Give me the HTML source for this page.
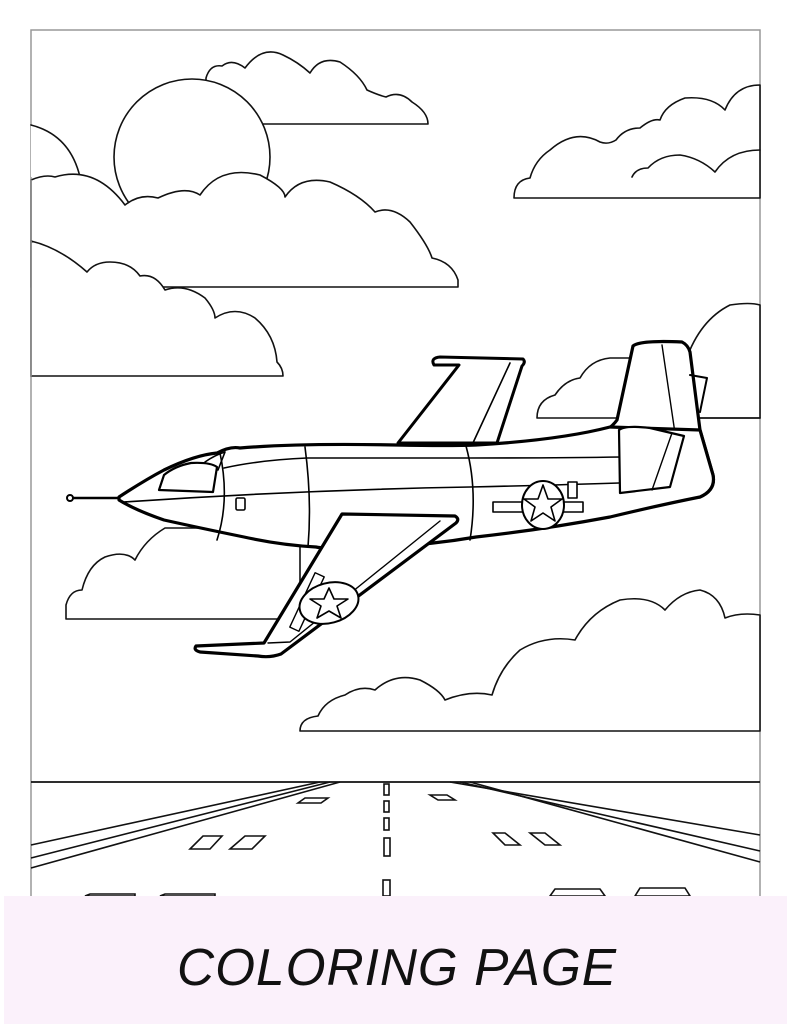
<!DOCTYPE html>
<html><head><meta charset="utf-8"><style>
html,body{margin:0;padding:0;background:#fff;width:791px;height:1024px;overflow:hidden}
svg{display:block}
</style></head><body>
<svg width="791" height="1024" viewBox="0 0 791 1024" xmlns="http://www.w3.org/2000/svg">
<rect x="0" y="0" width="791" height="1024" fill="#fff"/>
<rect x="31" y="30" width="729" height="880" fill="#fff" stroke="#999" stroke-width="1.5"/>
<g fill="#fff" stroke="#111" stroke-width="1.6" stroke-linecap="round" stroke-linejoin="round">
<path d="M206,124 L206,78 Q210,64 222,66 Q232,58 245,68 Q262,45 283,55 Q298,62 310,73 Q320,56 340,62 Q360,75 367,90 Q378,95 386,97 Q400,90 412,102 Q428,112 428,124 Z"/>
<circle cx="192" cy="157" r="78"/>
<path d="M31,125 Q70,135 80,177 L31,177 Z" stroke="none"/>
<path d="M31,125 Q70,135 80,177" fill="none"/>
<path d="M31,287 L31,180 Q45,174 55,177 Q95,165 125,205 Q140,193 158,198 Q185,185 200,195 Q220,165 260,175 Q285,188 285,197 Q300,175 330,182 Q360,195 375,212 Q392,205 410,222 Q428,245 432,258 Q452,262 458,280 L458,287 Z"/>
<line x1="31" y1="180" x2="31" y2="287" stroke="#999" stroke-width="1.5"/>
<path d="M31,241 Q60,248 87,272 Q95,262 110,262 Q130,262 140,276 Q155,273 165,290 Q185,283 205,298 Q215,310 215,318 Q235,305 255,318 Q275,335 277,362 Q283,368 283,376 L31,376 Z"/>
<line x1="31" y1="241" x2="31" y2="376" stroke="#999" stroke-width="1.5"/>
<path d="M514,198 Q514,180 530,178 Q535,160 550,150 Q575,128 600,142 Q608,145 616,140 Q625,128 640,128 Q652,118 660,120 Q665,105 685,98 Q712,96 725,110 Q735,85 760,85 L760,198 Z"/>
<path d="M632,177 Q636,168 648,168 Q660,155 680,155 Q700,158 715,172 Q730,150 760,150" fill="none"/>
<path d="M537,418 Q537,400 555,395 Q565,380 580,378 Q590,360 610,358 L640,358 L640,418 Z"/>
<path d="M686,360 Q700,320 730,305 Q750,302 760,305 L760,418 L686,418 Z"/>
<line x1="686" y1="418" x2="760" y2="418"/>
<path d="M66,619 L66,605 Q70,590 82,590 Q88,565 105,557 Q125,550 135,560 Q145,540 165,528 L300,528 L300,619 Z"/>
<path d="M300,731 Q300,718 318,716 Q325,700 345,695 Q360,685 375,690 Q395,672 420,680 Q440,690 445,700 Q470,690 492,695 Q500,668 520,650 Q545,635 575,640 Q590,612 620,600 Q650,595 665,610 Q680,592 700,590 Q720,595 725,618 Q740,612 760,615 L760,731 Z"/>
</g>
<g fill="#fff" stroke="#000" stroke-linejoin="round" stroke-linecap="round">
<path d="M398,443 L459,365 L434,365 Q430,358 440,357 L523,359 Q526,362 522,366 L497,443 Z" stroke-width="3"/>
<line x1="510" y1="363" x2="472" y2="445" stroke-width="1.6"/>
<path d="M590,440 Q610,430 617,420 L633,346 Q640,340 682,342 Q688,345 690,352 L700,430 L713,475 Q716,490 700,497 L600,500 Z" stroke-width="3.2"/>
<line x1="662" y1="345" x2="676" y2="440" stroke-width="1.4"/>
<path d="M690,375 L707,378 L700,412" fill="none" stroke-width="2"/>
<path d="M119,497 Q145,480 164,470 Q195,455 217,453 Q230,446 240,448 Q300,443 396,445 Q450,446 476,445 Q560,440 610,427 L700,430 L713,475 Q716,490 700,497 Q660,505 610,517 Q540,530 476,537 Q430,545 380,547 Q330,550 316,547 Q280,545 244,537 Q200,528 164,520 Q135,510 119,500 Z" stroke-width="3.2"/>
<line x1="68" y1="498" x2="119" y2="498" stroke-width="2.5"/>
<circle cx="70" cy="498" r="3" stroke-width="2"/>
<path d="M159,490 L164,475 Q175,466 191,463 Q210,462 217,467 L213,492 Z" stroke-width="2.2"/>
<path d="M205,462 Q215,455 225,452 L218,470" fill="none" stroke-width="1.6"/>
<path d="M124,502 Q300,490 470,487 Q560,485 619,483" fill="none" stroke-width="1.6"/>
<path d="M224,468 Q260,460 307,458 L470,458 Q560,458 622,457" fill="none" stroke-width="1.6"/>
<path d="M220,453 Q230,500 217,540" fill="none" stroke-width="1.6"/>
<path d="M305,447 Q312,500 308,547" fill="none" stroke-width="1.6"/>
<path d="M466,446 Q478,490 470,540" fill="none" stroke-width="1.6"/>
<rect x="236" y="498" width="9" height="12" rx="1.5" stroke-width="1.6"/>
<path d="M619,430 Q625,425 650,428 L684,436 L670,487 L620,493 Z" stroke-width="2.2"/>
<line x1="672" y1="433" x2="652" y2="490" stroke-width="1.4"/>
<rect x="493" y="502" width="90" height="10" stroke-width="1.6"/>
<rect x="568" y="482" width="9" height="16" stroke-width="1.6"/>
<ellipse cx="543" cy="505" rx="21" ry="24" stroke-width="2"/>
<polygon points="543,485 548,499 562,499 551,507 555,521 543,513 531,521 535,507 524,499 538,499" stroke-width="1.6"/>
<path d="M342,514 L455,516 Q460,519 456,523 L281,654 Q270,658 258,656 L200,652 Q193,650 196,646 L264,643 Z" stroke-width="3.2"/>
<path d="M440,521 L290,642 L268,643" fill="none" stroke-width="1.4"/>
<rect x="302" y="572" width="10" height="60" transform="rotate(25 307 602)" stroke-width="1.4"/>
<ellipse cx="329" cy="603" rx="30" ry="20" transform="rotate(-15 329 603)" stroke-width="2"/>
<polygon points="329,588 334,599 348,599 337,606 341,618 329,611 317,618 321,606 310,599 324,599" stroke-width="1.6"/>
</g>
<g stroke="#111" stroke-width="1.6" fill="#fff">
<line x1="31" y1="782" x2="760" y2="782" stroke-width="1.8"/>
<line x1="31" y1="845" x2="320" y2="782"/>
<line x1="31" y1="858" x2="330" y2="782"/>
<line x1="31" y1="868" x2="340" y2="782"/>
<line x1="760" y1="835" x2="450" y2="782"/>
<line x1="760" y1="851" x2="460" y2="782"/>
<line x1="760" y1="862" x2="470" y2="782"/>
<rect x="384" y="784" width="5" height="11"/>
<rect x="384" y="801" width="5" height="11"/>
<rect x="384" y="818" width="5" height="12"/>
<rect x="384" y="838" width="6" height="18"/>
<rect x="383" y="880" width="7" height="16"/>
<polygon points="305,798 328,798 321,803 298,803"/>
<polygon points="203,836 222,836 210,849 190,849"/>
<polygon points="245,836 265,836 252,849 230,849"/>
<polygon points="430,795 447,795 455,800 438,800"/>
<polygon points="493,833 505,833 520,845 505,845"/>
<polygon points="530,833 545,833 560,845 545,845"/>
<polygon points="85,896 90,894 135,894 135,896"/>
<polygon points="160,896 165,894 215,894 215,896"/>
<polygon points="550,896 555,889 600,889 605,896"/>
<polygon points="635,896 640,888 685,888 690,896"/>
</g>
<rect x="4" y="896" width="783" height="128" fill="#fbf1fb"/>
<text x="397" y="985" text-anchor="middle" font-family="'Liberation Sans', sans-serif" font-style="italic" font-size="52" fill="#111" letter-spacing="1" textLength="440" lengthAdjust="spacingAndGlyphs">COLORING PAGE</text>
</svg>
</body></html>
